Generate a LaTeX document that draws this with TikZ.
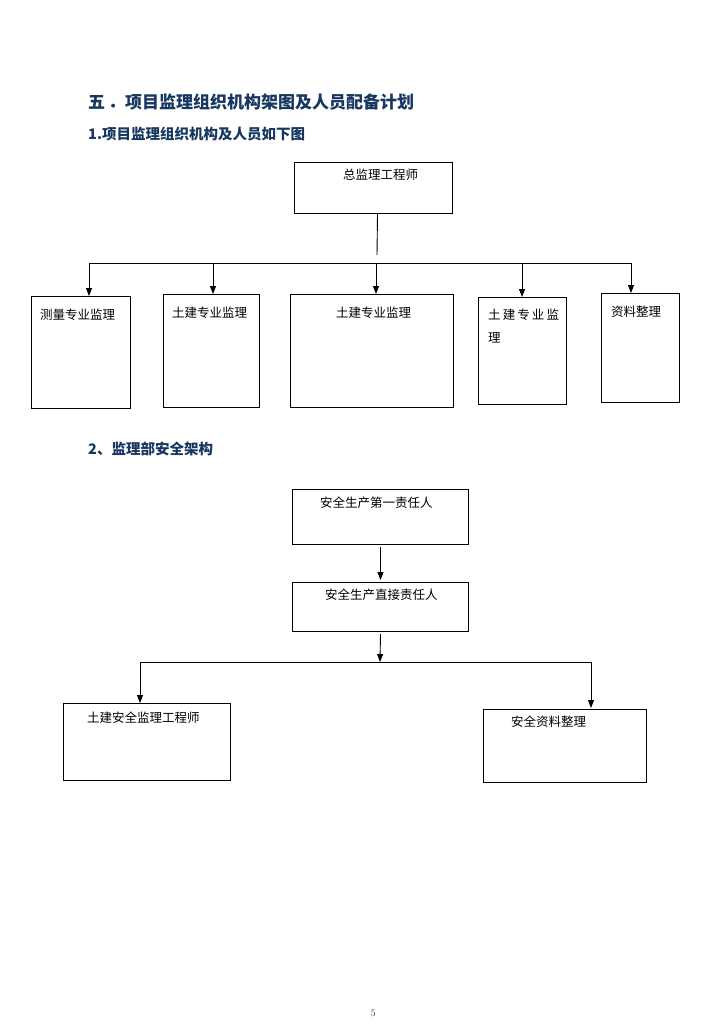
\documentclass[tikz,border=0pt]{standalone}
\usepackage{fontspec}
\newfontfamily\cjk{Noto Sans CJK SC}
\usepackage{tikz}
\usetikzlibrary{arrows.meta,positioning}
\definecolor{headblue}{RGB}{24,55,96}

\begin{document}
\begin{tikzpicture}[x=1pt, y=-1pt,
  box/.style={draw, line width=1pt, rectangle, inner sep=0pt, anchor=north west},
  txt/.style={font=\cjk\fontsize{12.5}{23}\selectfont, inner sep=0pt, anchor=west, align=left},
  head/.style={font=\cjk\bfseries\fontsize{14.5}{17}\selectfont, text=headblue, inner sep=0pt, anchor=west},
  arr/.style={-{Triangle[length=8pt,width=6pt]}, line width=0.9pt},
  bus/.style={line width=0.9pt}
]
\useasboundingbox[fill=white] (0,0) rectangle (724,1024);

% headings
\node[head, font=\cjk\bfseries\fontsize{17}{19}\selectfont] (title) at (88,102) {五\,．项目监理组织机构架图及人员配备计划};
\node[head] (sub1) at (88,134) {1.项目监理组织机构及人员如下图};
\node[head] (sub2) at (88,449) {2、监理部安全架构};

% organisation chart
\node[box, minimum width=158pt, minimum height=51pt] (chief) at (294,162) {};
\node[txt] (chief-t) at (343,175) {总监理工程师};

\node[box, minimum width=99pt, minimum height=112pt] (survey) at (31,296) {};
\node[txt] (survey-t) at (40,315) {测量专业监理};
\node[box, minimum width=96pt, minimum height=113pt] (civilA) at (163,294) {};
\node[txt] (civilA-t) at (172,313) {土建专业监理};
\node[box, minimum width=163pt, minimum height=113pt] (civilB) at (290,294) {};
\node[txt] (civilB-t) at (336,313) {土建专业监理};
\node[box, minimum width=88pt, minimum height=107pt] (civilC) at (478,297) {};
\node[txt, anchor=north west] (civilC-t) at (488,309) {土\,建\,专\,业\,监\\理};
\node[box, minimum width=78pt, minimum height=109pt] (docs) at (601,293) {};
\node[txt] (docs-t) at (611,312) {资料整理};

\coordinate (gap1) at (377,255);
\coordinate (busL) at (89,263);
\coordinate (busR) at (631,263);
\coordinate (tapB) at (213,263);
\coordinate (tapC) at (376,263);
\coordinate (tapD) at (522,263);

\draw[bus] ([xshift=4pt]chief.south) -- (gap1);
\draw[bus] (busL) -- (busR);
\draw[arr] (busL) -- (busL |- survey.north);
\draw[arr] (tapB) -- (tapB |- civilA.north);
\draw[arr] (tapC) -- (tapC |- civilB.north);
\draw[arr] (tapD) -- (tapD |- civilC.north);
\draw[arr] (busR) -- (busR |- docs.north);

% safety chart
\node[box, minimum width=176pt, minimum height=55pt] (first) at (292,489) {};
\node[txt] (first-t) at (320,503) {安全生产第一责任人};
\node[box, minimum width=176pt, minimum height=49pt] (direct) at (292,582) {};
\node[txt] (direct-t) at (325,595) {安全生产直接责任人};
\node[box, minimum width=167pt, minimum height=77pt] (site) at (63,703) {};
\node[txt] (site-t) at (87,718) {土建安全监理工程师};
\node[box, minimum width=163pt, minimum height=73pt] (safedocs) at (483,709) {};
\node[txt] (safedocs-t) at (511,722) {安全资料整理};

\coordinate (bus2L) at (140,662);
\coordinate (bus2M) at (380,662);
\coordinate (bus2R) at (591,662);

\draw[arr] ([yshift=-2pt]first.south) -- ([yshift=2pt]direct.north);
\draw[arr] ([yshift=-2pt]direct.south) -- (bus2M);
\draw[bus] (bus2L) -- (bus2R);
\draw[arr] (bus2L) -- (bus2L |- site.north);
\draw[arr] (bus2R) -- ([yshift=1pt]bus2R |- safedocs.north);

% page number
\node[font=\fontsize{10}{12}\selectfont, text=black!75, inner sep=0pt] (pagenum) at (373,1013) {5};
\end{tikzpicture}
\end{document}
